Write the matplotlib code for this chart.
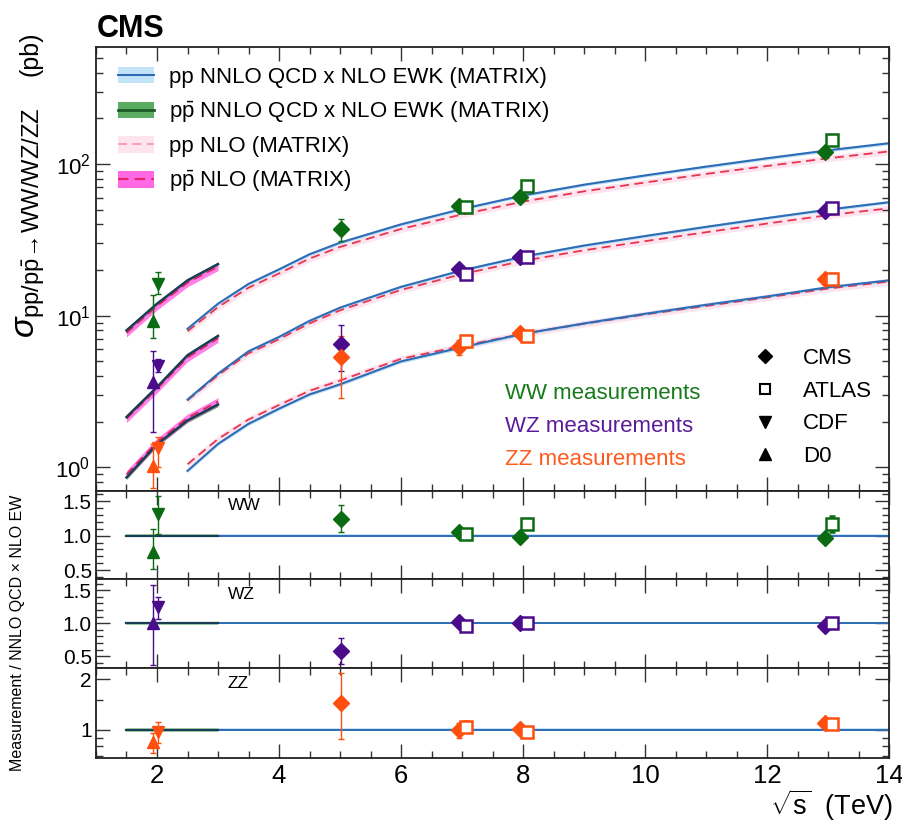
import numpy as np
import matplotlib
matplotlib.use('Agg')
import matplotlib.pyplot as plt
from matplotlib.lines import Line2D
from matplotlib.patches import Patch
from matplotlib.ticker import FixedLocator, MultipleLocator, NullFormatter, LogLocator, FixedFormatter

plt.rcParams['font.family'] = ['Liberation Sans', 'DejaVu Sans']
plt.rcParams['mathtext.fontset'] = 'custom'
plt.rcParams['mathtext.rm'] = 'Liberation Sans'
plt.rcParams['mathtext.it'] = 'Liberation Sans:italic'
plt.rcParams['mathtext.bf'] = 'Liberation Sans:bold'
plt.rcParams['mathtext.sf'] = 'Liberation Sans'

# ---------------- theory predictions (pb) ----------------
pp_sqrts = [2.5, 3, 3.5, 4, 4.5, 5, 6, 7, 8, 9, 10, 11, 12, 13, 14]
ww_pp_nnlo = [8.2, 12.0, 16.2, 20.2, 25.4, 30.3, 40.0, 50.5, 62, 73, 84, 96, 109, 123, 137]
ww_pp_nlo = [7.9, 11.4, 15.3, 19.0, 23.8, 28.4, 37.3, 46.5, 56.5, 66, 75.5, 86, 97, 109, 121]
wz_pp_nnlo = [2.80, 4.15, 5.83, 7.25, 9.25, 11.3, 15.5, 19.9, 24.5, 29.0, 33.5, 38.5, 44.0, 50.0, 56.0]
wz_pp_nlo = [2.77, 4.05, 5.65, 7.0, 8.9, 10.85, 14.8, 18.8, 23.0, 27.0, 31.0, 35.5, 40.5, 46.0, 51.0]
zz_pp_nnlo = [0.95, 1.43, 1.94, 2.44, 3.03, 3.53, 5.0, 6.2, 7.6, 8.9, 10.3, 11.8, 13.4, 15.4, 17.1]
zz_pp_nlo = [1.05, 1.54, 2.07, 2.58, 3.2, 3.74, 5.2, 6.33, 7.6, 8.85, 10.2, 11.6, 13.2, 15.1, 16.8]

ppbar_sqrts = [1.5, 2.0, 2.5, 3.0]
ww_ppbar_nnlo = [8.0, 12.0, 17.1, 21.9]
ww_ppbar_nlo = [7.7, 11.6, 16.5, 21.1]
wz_ppbar_nnlo = [2.15, 3.39, 5.49, 7.36]
wz_ppbar_nlo = [2.1, 3.3, 5.3, 7.1]
zz_ppbar_nnlo = [0.86, 1.42, 2.04, 2.6]
zz_ppbar_nlo = [0.9, 1.47, 2.12, 2.72]

# ---------------- measurements (pb), order per process: WW, WZ, ZZ ----------------
tev_sqrts = 1.96
d0_xsec = [9.3, 3.66, 1.03]
d0_err_lo = [2.2, 1.95, 0.30]
d0_err_hi = [4.3, 2.24, 0.39]
cdf_xsec = [16.3, 4.64, 1.35]
cdf_err_lo = [2.3, 0.38, 0.35]
cdf_err_hi = [3.0, 0.52, 0.25]

cms_sqrts = [5.02, 7, 8, 13]
cms_ww = [37.2, 52.8, 60.8, 119.5]
cms_ww_err = [6.0, 3.5, 4.0, 6.5]
cms_wz = [6.55, 20.2, 24.2, 49.0]
cms_wz_err = [2.2, 1.5, 1.5, 3.0]
cms_zz = [5.35, 6.22, 7.7, 17.4]
cms_zz_err_lo = [2.5, 0.7, 0.45, 1.0]
cms_zz_err_hi = [2.05, 0.7, 0.45, 1.0]

atlas_sqrts = [7, 8, 13]
atlas_ww = [51.8, 71.6, 144]
atlas_ww_err = [3.5, 5.5, 10]
atlas_wz = [18.8, 24.4, 51.5]
atlas_wz_err = [1.3, 1.2, 2.5]
atlas_zz = [6.8, 7.32, 17.4]
atlas_zz_err = [0.6, 0.45, 1.0]

# ---------------- ratios measurement / NNLO QCD x NLO EW ----------------
d0_ratio = [0.76, 1.0, 0.845]
d0_ratio_lo = [0.24, 0.63, 0.118]
d0_ratio_hi = [0.34, 0.58, 0.111]
cdf_ratio = [1.32, 1.24, 0.977]
cdf_ratio_lo = [0.30, 0.18, 0.137]
cdf_ratio_hi = [0.26, 0.15, 0.143]
cms_ww_ratio = [1.25, 1.05, 0.98, 0.97]
cms_ww_ratio_err = [0.20, 0.06, 0.06, 0.05]
cms_wz_ratio = [0.58, 1.02, 1.0, 0.96]
cms_wz_ratio_err = [0.20, 0.06, 0.05, 0.05]
cms_zz_ratio = [1.45, 1.0, 1.01, 1.096]
cms_zz_ratio_lo = [0.57, 0.1, 0.06, 0.06]
cms_zz_ratio_hi = [0.74, 0.1, 0.06, 0.06]
atlas_ww_ratio = [1.03, 1.17, 1.17]
atlas_ww_ratio_err = [0.06, 0.07, 0.12]
atlas_wz_ratio = [0.96, 1.0, 1.01]
atlas_wz_ratio_err = [0.05, 0.04, 0.04]
atlas_zz_ratio = [1.046, 0.977, 1.085]
atlas_zz_ratio_err = [0.08, 0.06, 0.06]

# ---------------- styling ----------------
proc_names = ['WW', 'WZ', 'ZZ']
proc_colors = ['#0b6b12', '#4b0c8c', '#ff4f0f']
text_colors = ['#157a1a', '#5a1c9c', '#ff5a1e']

PP_BAND = '#c2e3f8'
PP_LINE = '#2f6cb5'
PPBAR_BAND = '#5aac60'
PPBAR_LINE = '#173e55'
PPNLO_BAND = '#fde4ee'
PPNLO_LINE = '#e8354f'
PPBARNLO_BAND = '#ff6ae4'
PPBARNLO_LINE = '#e0225a'

W, H = 903, 822
fig = plt.figure(figsize=(W / 100, H / 100), dpi=100)

def rect(x0, y0, x1, y1):
    return [x0 / W, 1 - y1 / H, (x1 - x0) / W, (y1 - y0) / H]

ax = fig.add_axes(rect(96, 47, 889, 491))
ax_ww = fig.add_axes(rect(96, 491, 889, 579))
ax_wz = fig.add_axes(rect(96, 579, 889, 668))
ax_zz = fig.add_axes(rect(96, 668, 889, 758))
ratio_axes = [ax_ww, ax_wz, ax_zz]

pp_x = np.array(pp_sqrts)
pb_x = np.array(ppbar_sqrts)

theory = [
    (ww_pp_nnlo, ww_pp_nlo, ww_ppbar_nnlo, ww_ppbar_nlo),
    (wz_pp_nnlo, wz_pp_nlo, wz_ppbar_nnlo, wz_ppbar_nlo),
    (zz_pp_nnlo, zz_pp_nlo, zz_ppbar_nnlo, zz_ppbar_nlo),
]

for (pn, pl, bn, bl) in theory:
    pn, pl, bn, bl = map(np.array, (pn, pl, bn, bl))
    # pp
    ax.fill_between(pp_x, pl * 0.95, pl * 1.05, color=PPNLO_BAND, lw=0, zorder=1)
    ax.fill_between(pp_x, pn * 0.975, pn * 1.025, color=PP_BAND, lw=0, zorder=1.5)
    ax.plot(pp_x, pl, color=PPNLO_LINE, lw=1.3, dashes=(5, 3), zorder=2)
    ax.plot(pp_x, pn, color=PP_LINE, lw=1.5, zorder=2.5)
    # ppbar
    ax.fill_between(pb_x, bn * 0.97, bn * 1.03, color=PPBAR_BAND, lw=0, zorder=1)
    ax.fill_between(pb_x, bl * 0.94, bl * 1.06, color=PPBARNLO_BAND, lw=0, alpha=0.85, zorder=1.5)
    ax.plot(pb_x, bl, color=PPBARNLO_LINE, lw=1.3, dashes=(5, 3), zorder=2)
    ax.plot(pb_x, bn, color=PPBAR_LINE, lw=1.8, zorder=2.5)

ms_d = 8
ms_s = 8
ms_t = 9
cms_off, atlas_off = -0.05, 0.06
d0_off, cdf_off = -0.03, 0.06

cms_main = [(cms_ww, cms_ww_err, cms_ww_err), (cms_wz, cms_wz_err, cms_wz_err), (cms_zz, cms_zz_err_lo, cms_zz_err_hi)]
atlas_main = [(atlas_ww, atlas_ww_err), (atlas_wz, atlas_wz_err), (atlas_zz, atlas_zz_err)]

def cms_pos(xs):
    return [x if x < 6 else x + cms_off for x in xs]

for i, c in enumerate(proc_colors):
    # Tevatron
    ax.errorbar([tev_sqrts + d0_off], [d0_xsec[i]], yerr=[[d0_err_lo[i]], [d0_err_hi[i]]],
                fmt='^', color=c, ms=ms_t, elinewidth=1, capsize=2, zorder=5)
    ax.errorbar([tev_sqrts + cdf_off], [cdf_xsec[i]], yerr=[[cdf_err_lo[i]], [cdf_err_hi[i]]],
                fmt='v', color=c, ms=ms_t, elinewidth=1, capsize=2, zorder=5)
    # CMS
    v, lo, hi = cms_main[i]
    ax.errorbar(cms_pos(cms_sqrts), v, yerr=[lo, hi], fmt='D', color=c, ms=ms_d,
                elinewidth=1, capsize=2, zorder=5)
    # ATLAS
    v, e = atlas_main[i]
    ax.errorbar([x + atlas_off for x in atlas_sqrts], v, yerr=e, fmt='s', color=c, mfc='white',
                mec=c, mew=1.8, ms=ms_s, elinewidth=1, capsize=2, zorder=6)

ax.set_yscale('log')
ax.set_xlim(1, 14)
ax.set_ylim(0.70, 590)

# ---------------- ratio panels ----------------
cms_ratio = [(cms_ww_ratio, cms_ww_ratio_err, cms_ww_ratio_err),
             (cms_wz_ratio, cms_wz_ratio_err, cms_wz_ratio_err),
             (cms_zz_ratio, cms_zz_ratio_lo, cms_zz_ratio_hi)]
atlas_ratio = [(atlas_ww_ratio, atlas_ww_ratio_err), (atlas_wz_ratio, atlas_wz_ratio_err),
               (atlas_zz_ratio, atlas_zz_ratio_err)]

ones_pp = np.ones_like(pp_x)
ones_pb = np.ones_like(pb_x)
for i, (rax, c) in enumerate(zip(ratio_axes, proc_colors)):
    rax.fill_between(pp_x, ones_pp * 0.98, ones_pp * 1.02, color=PP_BAND, lw=0, zorder=1)
    rax.fill_between(pb_x, ones_pb * 0.975, ones_pb * 1.025, color='#a9d8ad', lw=0, zorder=1)
    rax.plot(pp_x, ones_pp, color=PP_LINE, lw=1.4, zorder=2)
    rax.plot(pb_x, ones_pb, color=PPBAR_LINE, lw=1.6, zorder=2.5)
    rax.errorbar([tev_sqrts + d0_off], [d0_ratio[i]], yerr=[[d0_ratio_lo[i]], [d0_ratio_hi[i]]],
                 fmt='^', color=c, ms=ms_t, elinewidth=1, capsize=2, zorder=5)
    rax.errorbar([tev_sqrts + cdf_off], [cdf_ratio[i]], yerr=[[cdf_ratio_lo[i]], [cdf_ratio_hi[i]]],
                 fmt='v', color=c, ms=ms_t, elinewidth=1, capsize=2, zorder=5)
    v, lo, hi = cms_ratio[i]
    rax.errorbar(cms_pos(cms_sqrts), v, yerr=[lo, hi], fmt='D', color=c, ms=ms_d,
                 elinewidth=1, capsize=2, zorder=5)
    v, e = atlas_ratio[i]
    rax.errorbar([x + atlas_off for x in atlas_sqrts], v, yerr=e, fmt='s', color=c, mfc='white',
                 mec=c, mew=1.8, ms=ms_s, elinewidth=1, capsize=2, zorder=6)
    rax.set_xlim(1, 14)
    rax.text(0.166, 0.83, proc_names[i], transform=rax.transAxes, fontsize=12.5,
             ha='left', va='center')

ax_ww.set_ylim(0.37, 1.65)
ax_wz.set_ylim(0.32, 1.67)
for rax in (ax_ww, ax_wz):
    rax.yaxis.set_major_locator(FixedLocator([0.5, 1.0, 1.5]))
    rax.yaxis.set_major_formatter(FixedFormatter(['0.5', '1.0', '1.5']))
    rax.yaxis.set_minor_locator(MultipleLocator(0.1))
ax_zz.set_yscale('log')
ax_zz.set_ylim(0.68, 2.33)
ax_zz.yaxis.set_major_locator(FixedLocator([1, 2]))
ax_zz.yaxis.set_major_formatter(FixedFormatter(['1', '2']))
ax_zz.yaxis.set_minor_locator(FixedLocator([0.7, 0.8, 0.9, 1.5]))
ax_zz.yaxis.set_minor_formatter(NullFormatter())

# ---------------- ticks & frames ----------------
for a in [ax] + ratio_axes:
    a.xaxis.set_major_locator(MultipleLocator(2))
    a.xaxis.set_minor_locator(MultipleLocator(0.5))
    a.tick_params(which='both', direction='in', top=True, right=True, width=1.0, color='#333333')
    a.tick_params(which='major', length=10)
    a.tick_params(which='minor', length=5)
    for s in a.spines.values():
        s.set_linewidth(1.3)
        s.set_color('#222222')
for a in [ax, ax_ww, ax_wz]:
    a.tick_params(axis='x', labelbottom=False)
ax_zz.tick_params(axis='x', labelsize=18.5, pad=4)
ax.tick_params(axis='y', labelsize=16, pad=4)
for rax in ratio_axes:
    rax.tick_params(axis='y', labelsize=15, pad=3)
ax.yaxis.set_major_locator(LogLocator(base=10, numticks=10))
ax.yaxis.set_minor_locator(LogLocator(base=10, subs=np.arange(2, 10), numticks=10))
ax.yaxis.set_minor_formatter(NullFormatter())

# ---------------- legends & labels ----------------
leg_handles = [
    (Patch(facecolor=PP_BAND, edgecolor='none'), Line2D([], [], color=PP_LINE, lw=1.5)),
    (Patch(facecolor=PPBAR_BAND, edgecolor='none'), Line2D([], [], color='#1d5a2a', lw=2)),
    (Patch(facecolor=PPNLO_BAND, edgecolor='none'), Line2D([], [], color='#f49ab0', lw=1.3, dashes=(5, 3))),
    (Patch(facecolor=PPBARNLO_BAND, edgecolor='none'), Line2D([], [], color='#e8206a', lw=1.5, dashes=(5, 3))),
]
leg_labels = ['pp NNLO QCD x NLO EWK (MATRIX)',
              r'p$\bar{\mathrm{p}}$ NNLO QCD x NLO EWK (MATRIX)',
              'pp NLO (MATRIX)',
              r'p$\bar{\mathrm{p}}$ NLO (MATRIX)']
leg1 = ax.legend(leg_handles, leg_labels, loc='upper left', bbox_to_anchor=(0.028, 0.956),
                 frameon=False, fontsize=16, handlelength=1.6, handleheight=0.75,
                 handletextpad=0.7, labelspacing=0.53, borderpad=0, borderaxespad=0)
ax.add_artist(leg1)

mk_handles = [
    Line2D([], [], marker='D', color='k', ls='none', ms=7.5),
    Line2D([], [], marker='s', color='k', mfc='white', mew=1.5, ls='none', ms=7),
    Line2D([], [], marker='v', color='k', ls='none', ms=8),
    Line2D([], [], marker='^', color='k', ls='none', ms=8),
]
ax.legend(mk_handles, ['CMS', 'ATLAS', 'CDF', 'D0'], loc='upper left',
          bbox_to_anchor=(0.83, 0.3215), frameon=False, fontsize=16, handlelength=1.0,
          handletextpad=1.2, labelspacing=0.52, borderpad=0, borderaxespad=0)

meas_y = [0.2205, 0.146, 0.072]
for name, tc, yy in zip(proc_names, text_colors, meas_y):
    ax.text(0.516, yy, f'{name} measurements', color=tc, fontsize=16,
            transform=ax.transAxes, ha='left', va='center')

fig.text(97 / W, 1 - 37 / H, 'CMS', fontsize=22, fontweight='bold', ha='left', va='baseline')
fig.text(31 / W, 1 - 338 / H,
         r'$\sigma_{\mathrm{pp/p\bar{p}}\!\rightarrow\!\mathrm{WW/WZ/ZZ}}$',
         rotation=90, fontsize=24.5, ha='center', va='bottom')
fig.text(31 / W, 1 - 32 / H, '(pb)', rotation=90, fontsize=18, ha='center', va='top')
fig.text(18 / W, 1 - 633 / H, 'Measurement / NNLO QCD × NLO EW', rotation=90,
         fontsize=11.5, ha='center', va='center')
fig.text(893 / W, 1 - 815 / H, r'$\sqrt{\mathrm{s}}$  (TeV)', fontsize=19.5,
         ha='right', va='baseline')

fig.savefig('out.png', dpi=100)
